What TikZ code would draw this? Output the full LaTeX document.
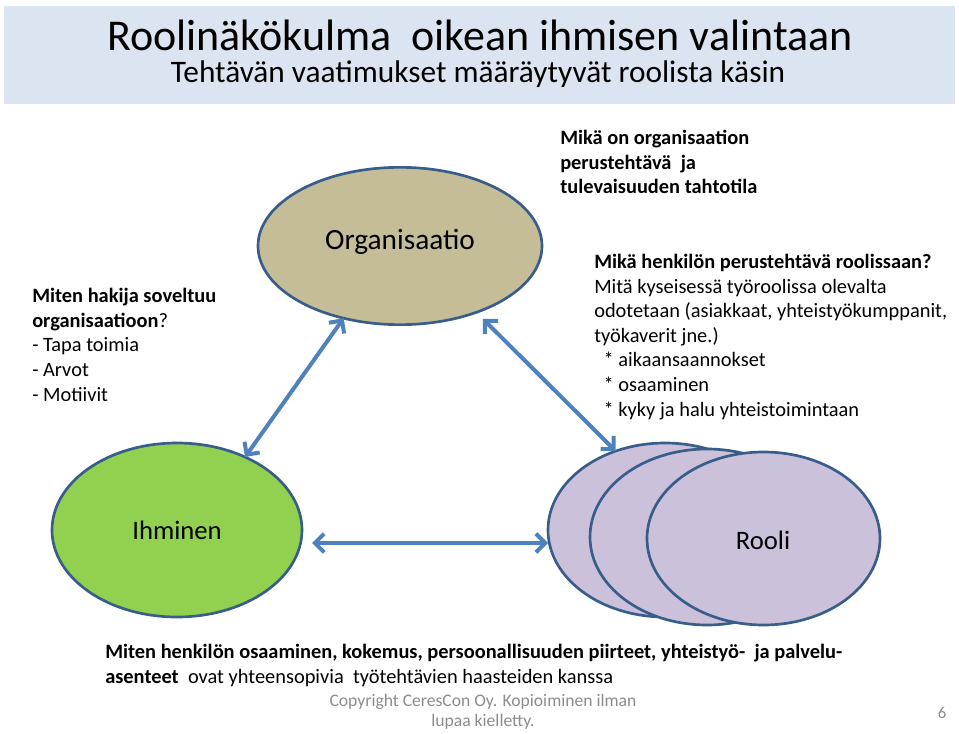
\documentclass[tikz,border=0pt]{standalone}
\usepackage{fontspec}
\setmainfont{Carlito}
\usetikzlibrary{shapes.geometric,arrows.meta,calc}
\definecolor{titlebg}{HTML}{DBE5F1}
\definecolor{orgfill}{HTML}{C4BD97}
\definecolor{ihmfill}{HTML}{92D050}
\definecolor{roolifill}{HTML}{CCC1DA}
\definecolor{edgeblue}{HTML}{385D8A}
\definecolor{arrowblue}{HTML}{4F81BD}
\definecolor{footgray}{HTML}{8C8C8C}
\begin{document}
\begin{tikzpicture}[x=0.75pt, y=-0.75pt,
    blob/.style={ellipse, draw=edgeblue, line width=2pt, inner sep=0pt, outer sep=0pt,
        font=\fontsize{20}{24}\selectfont},
    link/.style={{Straight Barb[length=7pt,width=14pt]}-{Straight Barb[length=7pt,width=14pt]},
        draw=arrowblue, line width=3pt},
    note/.style={anchor=base west, align=left, inner sep=0pt,
        font=\fontsize{15.3}{18.4}\selectfont}]
\useasboundingbox (0,0) rectangle (959,734);
% title
\fill[titlebg] (4,6) rectangle (955,104);
\node[inner sep=0pt, font=\fontsize{33}{36}\selectfont] (title) at (480,35) {Roolinäkökulma\ \ oikean ihmisen valintaan};
\node[inner sep=0pt, font=\fontsize{23.5}{28}\selectfont] (subtitle) at (478,74) {Tehtävän vaatimukset määräytyvät roolista käsin};
% ellipses
\node[blob, fill=orgfill, minimum width=213pt, minimum height=118pt] (org) at (400,246) {};
\node[font=\fontsize{22}{26}\selectfont] (orglabel) at (400,242) {Organisaatio};
\node[blob, fill=ihmfill, minimum width=187.5pt, minimum height=130.5pt] (ihm) at (177,530) {Ihminen};
\node[blob, fill=roolifill, minimum width=175.5pt, minimum height=130.5pt] (r1) at (665,530) {};
\node[blob, fill=roolifill, minimum width=175.5pt, minimum height=132pt] (r2) at (707,537) {};
\node[blob, fill=roolifill, minimum width=174.75pt, minimum height=129.75pt] (r3) at (763.5,538.5) {};
\node[font=\fontsize{20}{24}\selectfont] (roolilabel) at (763,540) {Rooli};
% arrows
\draw[link] (org.-128) -- (ihm.47);
\draw[link, shorten <=7pt] (org.-41) -- (r1.122);
\draw[link] ($(ihm.east)+(10,13)$) -- ($(r1.west)+(0,13)$);
% texts
\node[note] (fit) at (32,401) {\textbf{Miten hakija soveltuu}\\\textbf{organisaatioon}?\\- Tapa toimia\\- Arvot\\- Motiivit};
\node[note] (goal) at (560,194) {\textbf{Mikä on organisaation}\\\textbf{perustehtävä\ \ ja}\\\textbf{tulevaisuuden tahtotila}};
\node[note] (task) at (594,416) {\textbf{Mikä henkilön perustehtävä roolissaan?}\\Mitä kyseisessä työroolissa olevalta\\odotetaan (asiakkaat, yhteistyökumppanit,\\työkaverit jne.)\\\hspace*{7pt}* aikaansaannokset\\\hspace*{7pt}* osaaminen\\\hspace*{7pt}* kyky ja halu yhteistoimintaan};
\node[note] (match) at (105,683) {\textbf{Miten henkilön osaaminen, kokemus, persoonallisuuden piirteet, yhteistyö-\ \ ja palvelu-}\\\textbf{asenteet}\ \ ovat yhteensopivia\ \ työtehtävien haasteiden kanssa};
% footer
\node[align=center, text=footgray, font=\fontsize{13.2}{15}\selectfont] (copy) at (483,712) {Copyright CeresCon Oy. Kopioiminen ilman\\lupaa kielletty.};
\node[text=footgray, font=\fontsize{12.5}{15}\selectfont] (page) at (942,713) {6};
\end{tikzpicture}
\end{document}
